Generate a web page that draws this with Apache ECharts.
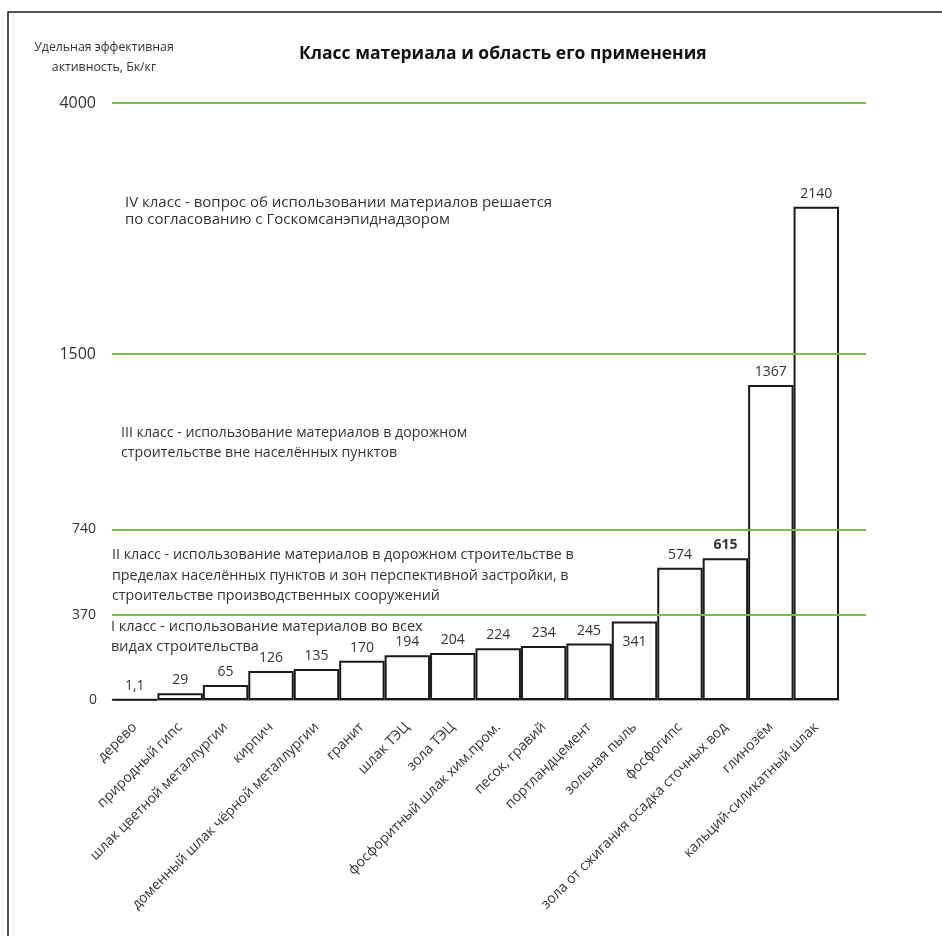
<!DOCTYPE html>
<html>
<head>
<meta charset="utf-8">
<script src="https://cdn.jsdelivr.net/npm/echarts@6/dist/echarts.min.js"></script>
<style>
  html, body { margin: 0; padding: 0; background: #fff; }
  #chart { width: 942px; height: 936px; }
</style>
</head>
<body>
<div id="chart"></div>
<script>
// ---- data ----
const categories = [
  'дерево', 'природный гипс', 'шлак цветной металлургии', 'кирпич',
  'доменный шлак чёрной металлургии', 'гранит', 'шлак ТЭЦ', 'зола ТЭЦ',
  'фосфоритный шлак хим.пром.', 'песок, гравий', 'портландцемент',
  'зольная пыль', 'фосфогипс', 'зола от сжигания осадка сточных вод',
  'глинозём', 'кальций-силикатный шлак'
];
const activity = [1.1, 29, 65, 126, 135, 170, 194, 204, 224, 234, 245, 341, 574, 615, 1367, 2140];
const classLimits = [370, 740, 1500, 4000];
const classTexts = [
  'I класс - использование материалов во всех\nвидах строительства',
  'II класс - использование материалов в дорожном строительстве в\nпределах населённых пунктов и зон перспективной застройки, в\nстроительстве производственных сооружений',
  'III класс - использование материалов в дорожном\nстроительстве вне населённых пунктов',
  'IV класс - вопрос об использовании материалов решается\nпо согласованию с Госкомсанэпиднадзором'
];
const chartTitle = 'Класс материала и область его применения';
const yTitle = 'Удельная эффективная\nактивность, Бк/кг';

// ---- layout / style ----
const FONT = '"Open Sans", "Noto Sans", sans-serif';
const TXT = '#333333';
const GREEN = '#7AB957';
const AXIS_TOP = 2590;          // the top (4000) line is drawn at the top of the plot (scale break)
const GRID = { left: 112, right: 103, top: 103, bottom: 236 };

const chart = echarts.init(document.getElementById('chart'), null, { renderer: 'canvas' });

const barData = activity.map((v, i) => {
  const item = { value: v };
  if (categories[i] === 'зольная пыль') {
    item.label = { position: 'insideTop', distance: 14 };
  }
  if (categories[i] === 'зола от сжигания осадка сточных вод') {
    item.label = { fontWeight: 'bold' };
  }
  return item;
});

const lineData = classLimits.map(lim => ({
  yAxis: Math.min(lim, AXIS_TOP),
  label: { formatter: String(lim), fontSize: lim >= 1500 ? 16 : 14 }
}));

// annotation layout (left x, first line centre y, line height, font size)
const annLayout = [
  { x: 111, y: 627, lh: 20, fs: 14.5 },
  { x: 112, y: 555, lh: 20.5, fs: 14.3 },
  { x: 121, y: 433, lh: 20, fs: 14.2 },
  { x: 125, y: 203, lh: 17, fs: 15 }
];

const option = {
  animation: false,
  backgroundColor: '#fff',
  title: {
    text: chartTitle,
    left: 294,
    top: 40,
    textStyle: { fontFamily: FONT, fontSize: 17.5, fontWeight: 'bold', color: '#111' }
  },
  grid: [
    { left: GRID.left, right: GRID.right, top: GRID.top, bottom: GRID.bottom },
    { left: GRID.left, right: 76, top: GRID.top, bottom: GRID.bottom }
  ],
  xAxis: [
    {
      type: 'category',
      gridIndex: 0,
      data: categories,
      axisLine: { show: true, lineStyle: { color: '#A6A6A6', width: 1 } },
      axisTick: { show: false },
      axisLabel: {
        interval: 0,
        rotate: 45,
        margin: 25,
        fontFamily: FONT,
        fontSize: 14,
        color: TXT
      }
    },
    { type: 'value', gridIndex: 1, min: 0, max: 1, show: false }
  ],
  yAxis: [
    {
      type: 'value',
      gridIndex: 0,
      min: 0,
      max: AXIS_TOP,
      interval: AXIS_TOP,
      axisLine: { show: false },
      axisTick: { show: false },
      splitLine: { show: false },
      axisLabel: {
        margin: 15,
        fontFamily: FONT,
        fontSize: 14,
        color: TXT,
        formatter: v => (v === 0 ? '0' : '')
      }
    },
    { type: 'value', gridIndex: 1, min: 0, max: AXIS_TOP, show: false }
  ],
  series: [
    {
      type: 'line',
      xAxisIndex: 1,
      yAxisIndex: 1,
      data: [],
      z: 1,
      silent: true,
      markLine: {
        silent: true,
        symbol: 'none',
        animation: false,
        lineStyle: { color: GREEN, width: 2, type: 'solid' },
        label: {
          position: 'start',
          distance: 16,
          fontFamily: FONT,
          color: TXT
        },
        emphasis: { disabled: true },
        data: lineData
      }
    },
    {
      type: 'bar',
      xAxisIndex: 0,
      yAxisIndex: 0,
      data: barData,
      z: 3,
      barCategoryGap: '0%',
      itemStyle: { color: 'rgba(255,255,255,0)', borderColor: '#1a1a1a', borderWidth: 2 },
      label: {
        show: true,
        position: 'top',
        distance: 6,
        fontFamily: FONT,
        fontSize: 14,
        color: TXT,
        formatter: p => String(p.value).replace('.', ',')
      },
      emphasis: { disabled: true }
    }
  ],
  graphic: [
    {
      type: 'rect',
      silent: true,
      shape: { x: 8, y: 12, width: 1000, height: 1000 },
      style: { fill: 'none', stroke: '#1a1a1a', lineWidth: 1.5 }
    },
    {
      type: 'text',
      silent: true,
      x: 104, y: 37,
      style: {
        text: yTitle,
        fontFamily: FONT, fontSize: 12.3, lineHeight: 20,
        fill: TXT, textAlign: 'center', textVerticalAlign: 'top'
      }
    }
  ].concat(classTexts.map((t, i) => ({
    type: 'text',
    silent: true,
    x: annLayout[i].x,
    y: annLayout[i].y - annLayout[i].lh / 2,
    style: {
      text: t,
      fontFamily: FONT, fontSize: annLayout[i].fs, lineHeight: annLayout[i].lh,
      fill: TXT, textAlign: 'left', textVerticalAlign: 'top'
    }
  })))
};

chart.setOption(option);
</script>
</body>
</html>
